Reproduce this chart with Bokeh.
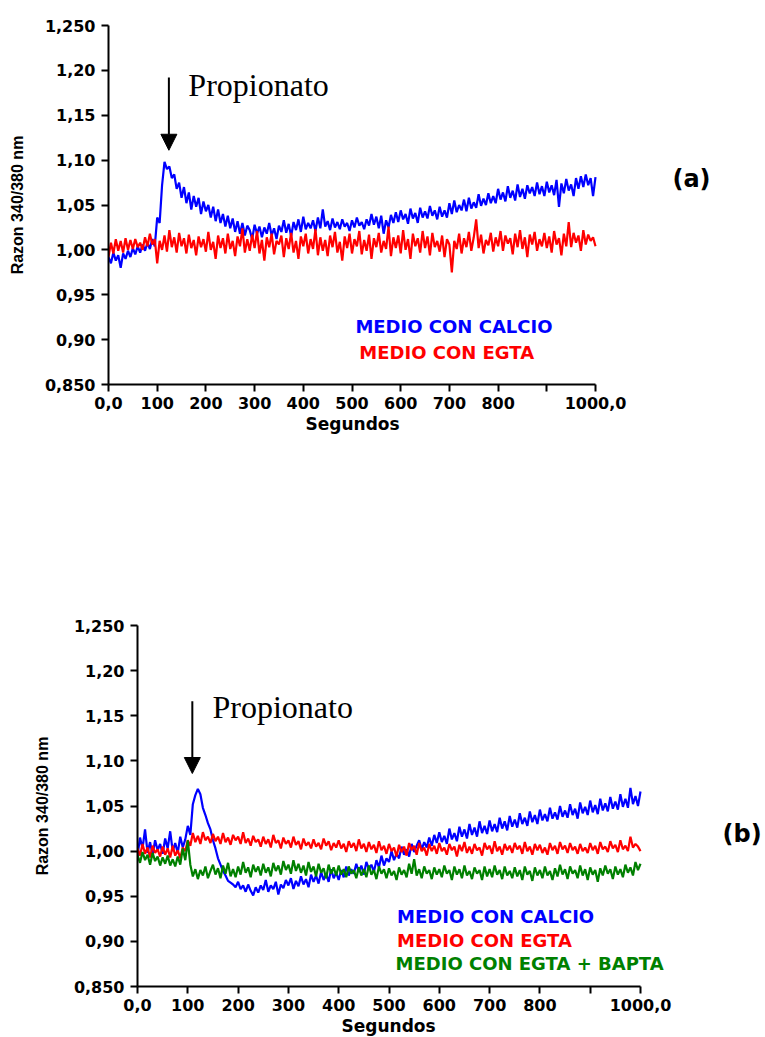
from bokeh.plotting import figure
from bokeh.models import Range1d, FixedTicker, Label, Arrow, NormalHead, Title
from bokeh.embed import file_html
from bokeh.resources import INLINE

# Fluorescence ratio 340/380 nm, sampled every 5 s from 0 to 1000 s
PASO_S = 5

# (a) medio con calcio
calcio_a = [
    0.992, 0.985, 0.997, 0.988, 0.994, 0.980, 0.996, 0.990, 0.999, 0.992,
    1.002, 0.995, 1.004, 0.997, 1.006, 0.999, 1.008, 1.001, 1.012, 1.004,
    1.036, 1.030, 1.072, 1.098, 1.090, 1.093, 1.080, 1.084, 1.068, 1.075,
    1.058, 1.070, 1.052, 1.064, 1.045, 1.060, 1.048, 1.058, 1.040, 1.054,
    1.043, 1.050, 1.036, 1.048, 1.032, 1.045, 1.030, 1.040, 1.026, 1.038,
    1.024, 1.035, 1.020, 1.032, 1.018, 1.030, 1.016, 1.027, 1.022, 1.012,
    1.028, 1.018, 1.026, 1.014, 1.025, 1.018, 1.030, 1.016, 1.024, 1.012,
    1.027, 1.020, 1.033, 1.019, 1.029, 1.015, 1.031, 1.022, 1.034, 1.020,
    1.037, 1.023, 1.030, 1.024, 1.033, 1.021, 1.036, 1.024, 1.045, 1.026,
    1.032, 1.022, 1.035, 1.025, 1.031, 1.023, 1.034, 1.026, 1.030, 1.021,
    1.033, 1.025, 1.036, 1.027, 1.031, 1.023, 1.034, 1.027, 1.040, 1.028,
    1.037, 1.024, 1.038, 1.018, 1.033, 1.025, 1.039, 1.030, 1.042, 1.031,
    1.044, 1.034, 1.040, 1.029, 1.046, 1.035, 1.041, 1.030, 1.047, 1.036,
    1.043, 1.035, 1.049, 1.038, 1.044, 1.034, 1.048, 1.037, 1.044, 1.036,
    1.052, 1.040, 1.055, 1.042, 1.050, 1.044, 1.056, 1.043, 1.058, 1.046,
    1.053, 1.047, 1.062, 1.049, 1.057, 1.050, 1.063, 1.052, 1.060, 1.052,
    1.068, 1.056, 1.064, 1.054, 1.071, 1.058, 1.066, 1.055, 1.073, 1.059,
    1.068, 1.057, 1.072, 1.063, 1.070, 1.060, 1.075, 1.062, 1.071, 1.060,
    1.076, 1.064, 1.072, 1.061, 1.078, 1.048, 1.074, 1.063, 1.079, 1.066,
    1.073, 1.060, 1.080, 1.068, 1.082, 1.070, 1.084, 1.072, 1.080, 1.060,
    1.081,
]

# (a) medio con EGTA
egta_a = [
    0.992, 1.008, 0.996, 1.012, 0.999, 1.010, 0.997, 1.013, 1.000, 1.011,
    1.001, 1.012, 1.003, 1.008, 1.000, 1.014, 1.004, 1.018, 1.006, 1.012,
    0.985, 1.010, 1.000, 1.016, 0.998, 1.022, 1.003, 1.014, 0.997, 1.019,
    1.004, 1.013, 0.996, 1.017, 1.002, 1.011, 0.994, 1.015, 1.003, 1.012,
    0.998, 1.020, 1.000, 1.009, 0.990, 1.016, 1.002, 1.013, 0.996, 1.018,
    1.001, 1.010, 0.993, 1.015, 1.004, 1.024, 0.997, 1.012, 0.999, 1.017,
    1.002, 1.021, 0.996, 1.011, 0.988, 1.014, 1.003, 1.018, 0.995, 1.010,
    1.006, 1.016, 0.992, 1.013, 1.001, 1.019, 0.997, 1.010, 0.990, 1.015,
    1.004, 1.018, 0.996, 1.012, 1.001, 1.023, 0.994, 1.014, 0.999, 1.011,
    0.993, 1.016, 1.003, 1.020, 0.997, 1.009, 0.988, 1.015, 1.002, 1.018,
    0.996, 1.012, 1.004, 1.021, 0.995, 1.011, 0.999, 1.017, 0.990, 1.013,
    1.003, 1.019, 0.997, 1.010, 1.001, 1.026, 0.993, 1.014, 1.002, 1.016,
    0.996, 1.022, 1.000, 1.012, 0.990, 1.018, 1.004, 1.013, 0.997, 1.021,
    1.002, 1.015, 0.994, 1.019, 1.003, 1.010, 0.998, 1.016, 0.992, 1.012,
    1.006, 0.975, 1.010, 1.001, 1.018, 0.996, 1.013, 1.003, 1.020, 0.999,
    1.014, 1.034, 1.002, 1.017, 0.996, 1.011, 1.005, 1.019, 0.998, 1.014,
    1.004, 1.021, 0.999, 1.016, 1.007, 1.013, 0.995, 1.018, 1.003, 1.022,
    1.001, 1.014, 0.992, 1.017, 1.006, 1.020, 0.999, 1.012, 1.004, 1.019,
    1.002, 1.015, 0.997, 1.021, 1.006, 1.013, 0.994, 1.018, 1.004, 1.031,
    1.003, 1.019, 1.008, 1.016, 0.999, 1.022, 1.006, 1.017, 1.010, 1.014,
    1.004,
]

# (b) medio con calcio
calcio_b = [
    0.995, 1.015, 1.003, 1.024, 0.998, 1.010, 0.996, 1.012, 1.001, 1.008,
    0.997, 1.014, 1.003, 1.022, 1.000, 1.009, 0.998, 1.016, 1.004, 1.013,
    1.028, 1.018, 1.052, 1.062, 1.069, 1.063, 1.048, 1.040, 1.031, 1.024,
    1.012, 1.003, 0.992, 0.985, 0.978, 0.973, 0.967, 0.965, 0.963, 0.960,
    0.966, 0.958, 0.962, 0.955, 0.963, 0.956, 0.951, 0.960, 0.954, 0.962,
    0.957, 0.968, 0.955, 0.962, 0.958, 0.966, 0.952, 0.963, 0.959, 0.968,
    0.962, 0.970, 0.958, 0.967, 0.961, 0.972, 0.963, 0.969, 0.960, 0.974,
    0.966, 0.973, 0.964, 0.977, 0.968, 0.975, 0.966, 0.980, 0.970, 0.976,
    0.968, 0.979, 0.971, 0.983, 0.973, 0.980, 0.975, 0.986, 0.977, 0.984,
    0.974, 0.988, 0.980, 0.985, 0.977, 0.990, 0.982, 0.995, 0.984, 0.992,
    0.988, 1.000, 0.990, 0.997, 0.992, 1.005, 0.996, 1.002, 0.994, 1.008,
    0.999, 1.006, 1.012, 1.002, 1.010, 1.004, 1.015, 1.006, 1.018, 1.009,
    1.021, 1.010, 1.017, 1.008, 1.025, 1.013, 1.020, 1.011, 1.027, 1.016,
    1.024, 1.014, 1.030, 1.018, 1.026, 1.016, 1.033, 1.020, 1.028, 1.019,
    1.034, 1.022, 1.030, 1.021, 1.037, 1.025, 1.033, 1.023, 1.039, 1.027,
    1.035, 1.026, 1.042, 1.030, 1.037, 1.028, 1.044, 1.032, 1.040, 1.030,
    1.046, 1.034, 1.041, 1.033, 1.048, 1.036, 1.043, 1.035, 1.050, 1.038,
    1.045, 1.037, 1.052, 1.040, 1.047, 1.036, 1.054, 1.042, 1.049, 1.040,
    1.056, 1.043, 1.051, 1.041, 1.058, 1.045, 1.053, 1.044, 1.060, 1.047,
    1.055, 1.046, 1.063, 1.049, 1.058, 1.048, 1.070, 1.052, 1.061, 1.050,
    1.066,
]

# (b) medio con EGTA
egta_b = [
    1.003, 0.995, 1.008, 0.997, 1.004, 0.993, 1.006, 0.998, 1.002, 0.994,
    1.005, 0.996, 1.003, 0.993, 1.006, 0.995, 1.001, 0.992, 1.004, 1.000,
    1.012, 1.006, 1.020, 1.010, 1.017, 1.008, 1.021, 1.012, 1.016, 1.009,
    1.019, 1.011, 1.016, 1.008, 1.020, 1.010, 1.015, 1.007, 1.018, 1.012,
    1.016, 1.008, 1.021, 1.009, 1.014, 1.006, 1.017, 1.010, 1.013, 1.005,
    1.016, 1.008, 1.013, 1.004, 1.018, 1.009, 1.012, 1.003, 1.015, 1.008,
    1.012, 1.004, 1.016, 1.007, 1.011, 1.002, 1.014, 1.006, 1.010, 1.003,
    1.013, 1.005, 1.009, 1.002, 1.014, 1.006, 1.011, 1.001, 1.009, 1.004,
    1.012, 1.003, 1.008, 0.999, 1.011, 1.004, 1.009, 1.000, 1.013, 1.003,
    1.008, 0.999, 1.010, 1.002, 1.007, 0.998, 1.011, 1.001, 1.006, 0.997,
    1.008, 1.000, 1.004, 0.994, 1.007, 0.999, 1.005, 0.995, 1.009, 1.001,
    1.006, 0.996, 1.009, 1.000, 1.004, 0.995, 1.008, 1.000, 1.006, 0.997,
    1.009, 1.000, 1.004, 0.996, 1.008, 1.001, 1.005, 0.994, 1.007, 1.000,
    1.010, 0.998, 1.005, 0.997, 1.008, 1.001, 1.004, 0.995, 1.009, 1.002,
    1.006, 0.997, 1.011, 1.000, 1.005, 0.996, 1.008, 1.001, 1.006, 0.998,
    1.009, 1.002, 1.006, 0.997, 1.010, 1.000, 1.005, 0.996, 1.008, 1.001,
    1.007, 0.998, 1.004, 0.996, 1.009, 1.001, 1.006, 0.997, 1.010, 1.002,
    1.006, 0.998, 1.009, 1.001, 1.005, 0.997, 1.008, 1.000, 1.004, 0.998,
    1.009, 1.001, 1.006, 0.997, 1.010, 1.002, 1.005, 0.999, 1.011, 1.003,
    1.007, 0.999, 1.012, 1.002, 1.006, 1.000, 1.016, 1.004, 1.008, 1.005,
    1.000,
]

# (b) medio con EGTA + BAPTA
egta_bapta_b = [
    0.996, 0.987, 0.999, 0.990, 0.996, 0.985, 0.998, 0.989, 0.994, 0.984,
    0.993, 0.986, 0.995, 0.984, 0.991, 0.983, 0.994, 0.985, 1.003, 0.990,
    1.012, 0.985, 0.972, 0.980, 0.969, 0.979, 0.973, 0.983, 0.970, 0.978,
    0.985, 0.974, 0.981, 0.970, 0.984, 0.975, 0.987, 0.972, 0.980, 0.971,
    0.983, 0.974, 0.988, 0.976, 0.982, 0.971, 0.985, 0.977, 0.983, 0.973,
    0.986, 0.976, 0.982, 0.972, 0.987, 0.978, 0.984, 0.974, 0.989, 0.979,
    0.985, 0.975, 0.990, 0.978, 0.986, 0.976, 0.984, 0.973, 0.988, 0.977,
    0.983, 0.972, 0.986, 0.976, 0.981, 0.970, 0.985, 0.975, 0.982, 0.973,
    0.984, 0.974, 0.980, 0.971, 0.983, 0.975, 0.979, 0.970, 0.982, 0.973,
    0.980, 0.971, 0.984, 0.974, 0.979, 0.969, 0.983, 0.975, 0.980, 0.970,
    0.981, 0.973, 0.978, 0.968, 0.982, 0.974, 0.979, 0.971, 0.986, 0.975,
    0.991, 0.973, 0.980, 0.970, 0.983, 0.975, 0.979, 0.969, 0.982, 0.974,
    0.980, 0.971, 0.984, 0.975, 0.979, 0.968, 0.983, 0.974, 0.980, 0.970,
    0.984, 0.973, 0.978, 0.969, 0.982, 0.975, 0.979, 0.968, 0.983, 0.972,
    0.980, 0.971, 0.984, 0.974, 0.979, 0.969, 0.983, 0.973, 0.978, 0.970,
    0.982, 0.972, 0.979, 0.968, 0.983, 0.974, 0.978, 0.967, 0.982, 0.973,
    0.979, 0.970, 0.983, 0.973, 0.978, 0.968, 0.981, 0.972, 0.985, 0.974,
    0.980, 0.969, 0.983, 0.975, 0.979, 0.970, 0.984, 0.973, 0.980, 0.968,
    0.982, 0.974, 0.979, 0.966, 0.981, 0.973, 0.984, 0.975, 0.980, 0.969,
    0.983, 0.974, 0.980, 0.971, 0.985, 0.976, 0.982, 0.973, 0.988, 0.979,
    0.986,
]

x_ticks = [0, 100, 200, 300, 400, 500, 600, 700, 800, 900, 1000]
x_tick_labels = ["0,0", "100", "200", "300", "400", "500", "600", "700", "800", "", "1000,0"]
y_ticks = [0.85, 0.90, 0.95, 1.00, 1.05, 1.10, 1.15, 1.20, 1.25]
y_tick_labels = ["0,850", "0,90", "0,95", "1,00", "1,05", "1,10", "1,15", "1,20", "1,250"]

AZUL = "#0000ff"
ROJO = "#ff0000"
VERDE = "#008000"
BOLD_FONT = "DejaVu Sans"
PAGE_W = 765


def tiempos(serie):
    return [PASO_S * i for i in range(len(serie))]


def make_panel(axis_px, left, top, height, frame_h, title_standoff, title_left):
    """axis_px: pixel length of the 0-1000 s axis. The frame runs on to the
    right edge of the page so the side labels fit inside it; the axes are
    bounded to the data span."""
    frame_w = PAGE_W - left
    x_end = 1000.0 * frame_w / axis_px
    p = figure(
        frame_width=frame_w, frame_height=frame_h,
        min_border_left=left, min_border_right=0,
        min_border_top=top, min_border_bottom=height - top - frame_h,
        x_range=Range1d(0, x_end), y_range=Range1d(0.85, 1.25),
        output_backend="svg", toolbar_location=None,
        y_axis_label="Razon 340/380 nm",
    )
    p.outline_line_color = None
    p.xgrid.visible = False
    p.ygrid.visible = False
    p.background_fill_color = "white"
    p.border_fill_color = "white"

    p.xaxis.ticker = FixedTicker(ticks=x_ticks)
    p.xaxis.major_label_overrides = dict(zip(x_ticks, x_tick_labels))
    p.xaxis.bounds = (0, 1000)
    p.yaxis.ticker = FixedTicker(ticks=y_ticks)
    p.yaxis.major_label_overrides = dict(zip(y_ticks, y_tick_labels))
    p.yaxis.bounds = (0.85, 1.25)

    for ax in (p.xaxis, p.yaxis):
        ax.axis_line_color = "black"
        ax.axis_line_width = 2
        ax.major_tick_line_color = "black"
        ax.major_tick_line_width = 2
        ax.major_tick_out = 7
        ax.major_tick_in = 0
        ax.minor_tick_line_color = None
        ax.major_label_text_font = BOLD_FONT
        ax.major_label_text_font_style = "bold"
        ax.major_label_text_font_size = "16px"
        ax.major_label_text_color = "black"
        ax.major_label_standoff = 5
        ax.axis_label_text_color = "black"

    p.yaxis.major_label_standoff = 6
    p.yaxis.axis_label_text_font = "Liberation Sans"
    p.yaxis.axis_label_text_font_style = "bold"
    p.yaxis.axis_label_text_font_size = "16px"
    p.yaxis.axis_label_standoff = title_standoff

    # x-axis title, placed under the 0-1000 s span rather than the whole frame
    p.add_layout(Title(text="Segundos", align="left", offset=title_left, standoff=0,
                       text_font=BOLD_FONT, text_font_style="bold",
                       text_font_size="17px", text_color="black"), "below")
    return p


def add_text(p, x, y, text, color="black", font=BOLD_FONT, size="18px", style="bold"):
    p.add_layout(Label(x=x, y=y, text=text, text_color=color, text_font=font,
                       text_font_size=size, text_font_style=style,
                       text_baseline="alphabetic", text_align="left"))


def add_arrow(p, x, y_top, y_tip):
    p.add_layout(Arrow(end=NormalHead(size=16, fill_color="black", line_color="black"),
                       x_start=x, y_start=y_top, x_end=x, y_end=y_tip,
                       line_color="black", line_width=2))


LW = 2.2

# Panel (a)
pa = make_panel(487, 108, 25, 520, 359, 16, 197)
pa.line(tiempos(calcio_a), calcio_a, line_color=AZUL, line_width=LW)
pa.line(tiempos(egta_a), egta_a, line_color=ROJO, line_width=LW)
add_arrow(pa, 124, 1.192, 1.111)
add_text(pa, 164, 1.184, "Propionato", font="Liberation Serif", size="32px", style="normal")
add_text(pa, 507, 0.915, "MEDIO CON CALCIO", color=AZUL)
add_text(pa, 515, 0.886, "MEDIO CON EGTA", color=ROJO)
add_text(pa, 1158, 1.079, "(a)", size="24px")

# Panel (b)
pb = make_panel(503, 137, 105, 517, 361, 20, 204)
pb.line(tiempos(calcio_b), calcio_b, line_color=AZUL, line_width=LW)
pb.line(tiempos(egta_b), egta_b, line_color=ROJO, line_width=LW)
pb.line(tiempos(egta_bapta_b), egta_bapta_b, line_color=VERDE, line_width=LW)
add_arrow(pb, 109, 1.166, 1.086)
add_text(pb, 149, 1.160, "Propionato", font="Liberation Serif", size="32px", style="normal")
add_text(pb, 516, 0.928, "MEDIO CON CALCIO", color=AZUL)
add_text(pb, 516, 0.901, "MEDIO CON EGTA", color=ROJO)
add_text(pb, 513, 0.8755, "MEDIO CON EGTA + BAPTA", color=VERDE)
add_text(pb, 1163, 1.019, "(b)", size="24px")

open("out.html", "w").write(file_html([pa, pb], INLINE))
